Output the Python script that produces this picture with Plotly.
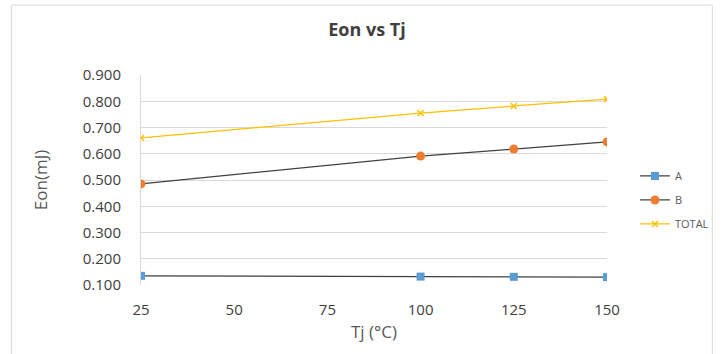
import plotly.graph_objects as go

tj = [25, 100, 125, 150]
a_vals = [0.135, 0.132, 0.131, 0.130]
b_vals = [0.485, 0.591, 0.618, 0.645]
total_vals = [0.660, 0.755, 0.782, 0.808]
y_ticks = [0.1, 0.2, 0.3, 0.4, 0.5, 0.6, 0.7, 0.8, 0.9]
x_ticks = [25, 50, 75, 100, 125, 150]

fig = go.Figure()
fig.add_trace(go.Scatter(x=tj, y=a_vals, name="A", mode="lines+markers", legendgroup="a",
                         line=dict(color="#404040", width=1.25),
                         marker=dict(symbol="square", size=8, color="#5B9BD5")))
fig.add_trace(go.Scatter(x=tj, y=b_vals, name="B", mode="lines+markers", legendgroup="b",
                         line=dict(color="#404040", width=1.25),
                         marker=dict(symbol="circle", size=9, color="#ED7D31")))
fig.add_trace(go.Scatter(x=tj, y=total_vals, name="TOTAL", mode="lines+markers", legendgroup="t",
                         line=dict(color="#FFC000", width=1.25),
                         marker=dict(symbol="x-thin", size=6, color="#FFC000",
                                     line=dict(color="#FFC000", width=1.5))))

font_family = "Open Sans, Liberation Sans, sans-serif"
fig.update_layout(
    width=726, height=354,
    margin=dict(l=141, r=111, t=75, b=69),
    paper_bgcolor="white", plot_bgcolor="white",
    font=dict(family=font_family, color="#404040"),
    title=dict(text="<b>Eon vs Tj</b>", x=0.5055, xanchor="center", y=0.915, yanchor="middle",
               font=dict(size=18, color="#404040", family=font_family)),
    showlegend=True,
    legend=dict(x=1.06, y=0.405, xanchor="left", yanchor="middle",
                font=dict(size=11, color="#595959"), tracegroupgap=5,
                itemwidth=30, bgcolor="rgba(0,0,0,0)"),
    xaxis=dict(range=[25, 150], tickvals=x_ticks, ticktext=[str(v) for v in x_ticks],
               showgrid=False, zeroline=False, showline=False,
               tickfont=dict(size=15, color="#404040"), ticks="", ticklen=0,
               ticklabelstandoff=14,
               title=dict(text="Tj (°C)", font=dict(size=17, color="#595959"), standoff=8)),
    yaxis=dict(range=[0.1, 0.9], tickvals=y_ticks, ticktext=[f"{v:.3f}" for v in y_ticks],
               showgrid=True, gridcolor="#D9D9D9", gridwidth=1, zeroline=False,
               showline=True, linecolor="#D9D9D9", linewidth=1,
               tickfont=dict(size=15, color="#404040"), ticks="", ticklen=0,
               ticklabelstandoff=16,
               title=dict(text="Eon(mJ)", font=dict(size=17, color="#595959"), standoff=30)),
)
fig.add_shape(type="rect", xref="paper", yref="paper",
              x0=-0.278, x1=1.226, y0=-0.36, y1=1.333,
              line=dict(color="#D9D9D9", width=1), fillcolor="rgba(0,0,0,0)", layer="below")

fig.write_html("out.html")
